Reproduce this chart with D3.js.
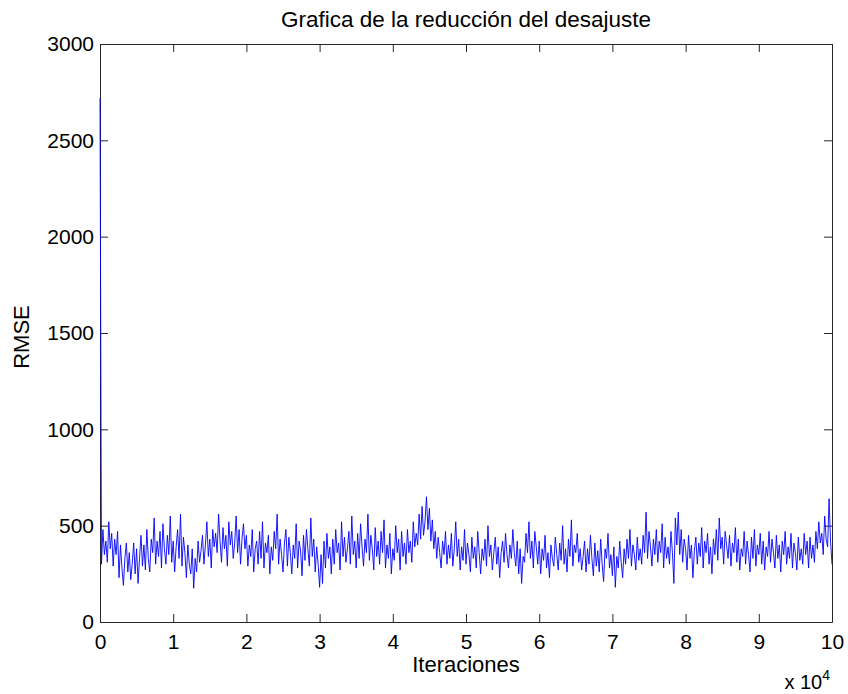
<!DOCTYPE html>
<html>
<head>
<meta charset="utf-8">
<script src="https://cdn.jsdelivr.net/npm/d3@7"></script>
<style>
  body { margin: 0; background: #fff; }
  svg text { font-family: "Liberation Sans", Arial, sans-serif; fill: #000; }
</style>
</head>
<body>
<svg class="chart"></svg>
<script>
// data
var title = 'Grafica de la reducción del desajuste';
var xLabel = 'Iteraciones';
var yLabel = 'RMSE';
var xTickValues = [0, 1, 2, 3, 4, 5, 6, 7, 8, 9, 10];
var yTickValues = [0, 500, 1000, 1500, 2000, 2500, 3000];
var iterStep = 200; // one reading every 200 iterations
var rmse = [
  2720, 300, 480, 350, 420, 310, 520, 380, 460, 290,
  430, 350, 470, 230, 400, 280, 190, 330, 410, 260,
  360, 220, 300, 410, 250, 380, 200, 330, 450, 290,
  400, 270, 480, 330, 260, 430, 360, 540, 300, 420,
  340, 470, 280, 510, 380, 300, 450, 350, 550, 310,
  420, 260, 390, 480, 330, 560, 290, 440, 360, 230,
  400, 300, 250, 380, 175, 330, 260, 420, 310, 370,
  450, 300, 400, 520, 340, 430, 280, 480, 390, 460,
  360, 560, 420, 310, 490, 380, 450, 290, 520, 400,
  470, 330, 410, 550, 360, 480, 300, 430, 510, 380,
  450, 290, 400, 340, 480, 260, 380, 420, 300, 470,
  330, 520, 280, 410, 360, 450, 250, 390, 320, 470,
  380, 560, 300, 430, 350, 260, 410, 480, 290, 440,
  360, 250, 400, 330, 510, 280, 420, 370, 240, 450,
  320, 480, 380, 290, 540, 340, 430, 260, 390, 300,
  180, 350, 200, 420, 280, 460, 330, 390, 250, 430,
  300, 480, 360, 410, 270, 520, 340, 440, 310, 380,
  470, 300, 550, 350, 420, 280, 460, 330, 510, 390,
  290, 430, 360, 560, 320, 450, 380, 270, 490, 340,
  420, 300, 470, 360, 530, 280, 400, 330, 460, 250,
  380, 320, 500, 360, 430, 270, 470, 340, 410, 300,
  480, 360, 420, 310, 520, 390, 460, 400, 560, 430,
  600, 450, 520, 650, 480, 590, 420, 530, 380, 470,
  330, 440, 360, 280, 420, 350, 470, 300, 400, 330,
  460, 290, 380, 520, 340, 430, 270, 390, 320, 480,
  300, 410, 350, 260, 440, 330, 390, 280, 470, 360,
  250, 380, 320, 430, 290, 500, 340, 400, 270, 360,
  440, 300, 390, 230, 360, 420, 310, 460, 350, 280,
  400, 330, 480, 360, 290, 420, 250, 380, 200, 340,
  310, 460, 360, 520, 330, 420, 280, 470, 390, 300,
  420, 250, 380, 320, 450, 280, 360, 230, 400, 330,
  290, 440, 350, 270, 410, 320, 500, 300, 380, 260,
  430, 340, 530, 290, 400, 360, 460, 310, 380, 270,
  340, 420, 260, 380, 300, 450, 330, 240, 410, 290,
  370, 260, 430, 300, 210, 380, 330, 460, 280, 350,
  240, 390, 180, 340, 280, 420, 310, 230, 380, 300,
  430, 330, 480, 290, 400, 350, 270, 440, 320, 380,
  300, 450, 360, 570, 330, 470, 390, 290, 430, 350,
  480, 310, 420, 360, 510, 280, 440, 330, 390, 300,
  470, 360, 200, 540, 400, 570, 350, 480, 310, 430,
  380, 270, 450, 330, 400, 230, 370, 440, 300, 410,
  340, 490, 280, 420, 360, 460, 300, 390, 250, 430,
  350, 480, 320, 540, 380, 440, 300, 470, 400, 330,
  450, 290, 410, 360, 490, 310, 430, 270, 380, 340,
  470, 300, 420, 350, 260, 440, 330, 480, 290, 400,
  350, 460, 300, 420, 270, 390, 340, 470, 310, 430,
  360, 280, 450, 330, 400, 260, 420, 350, 470, 300,
  390, 330, 460, 280, 410, 360, 270, 440, 320, 380,
  300, 460, 350, 420, 280, 440, 330, 400, 310, 470,
  380, 520, 410, 460, 350, 550, 430, 390, 640, 420,
  300
];

// chart
var width = 848;
var height = 694;
var margin = { left: 100, right: 16, top: 44, bottom: 72 };
var plotW = width - margin.left - margin.right;
var plotH = height - margin.top - margin.bottom;

var chart = d3.select('.chart')
    .attr('width', width)
    .attr('height', height);

var x = d3.scaleLinear()
    .domain([0, 100000])
    .range([0, plotW]);

var y = d3.scaleLinear()
    .domain([0, 3000])
    .range([plotH, 0]);

var g = chart.append('g')
    .attr('transform', 'translate(' + margin.left + ',' + margin.top + ')');

g.append('clipPath')
    .attr('id', 'plotClip')
  .append('rect')
    .attr('x', -1)
    .attr('width', plotW + 1)
    .attr('height', plotH);

// axes (matlab style box, ticks inward on all sides)
var tickLen = 8;
var xAxis = d3.axisBottom(x)
    .tickValues(xTickValues.map(function(v) { return v * 10000; }))
    .tickFormat(function(d) { return d / 10000; })
    .tickSizeInner(-tickLen)
    .tickSizeOuter(0)
    .tickPadding(12);

var yAxis = d3.axisLeft(y)
    .tickValues(yTickValues)
    .tickFormat(d3.format('d'))
    .tickSizeInner(-tickLen)
    .tickSizeOuter(0)
    .tickPadding(6);

var xAxisTop = d3.axisTop(x)
    .tickValues(xTickValues.map(function(v) { return v * 10000; }))
    .tickFormat('')
    .tickSizeInner(-tickLen)
    .tickSizeOuter(0);

var yAxisRight = d3.axisRight(y)
    .tickValues(yTickValues)
    .tickFormat('')
    .tickSizeInner(-tickLen)
    .tickSizeOuter(0);

function styleAxis(sel) {
  sel.select('.domain').attr('stroke', '#262626');
  sel.selectAll('.tick line').attr('stroke', '#262626');
  sel.selectAll('.tick text')
    .style('font-size', '21px')
    .style('font-family', '"Liberation Sans", Arial, sans-serif')
    .attr('fill', '#000');
}

g.append('g')
    .attr('class', 'x axis')
    .attr('transform', 'translate(0,' + plotH + ')')
    .call(xAxis)
    .call(styleAxis);

g.append('g')
    .attr('class', 'y axis')
    .call(yAxis)
    .call(styleAxis);

g.append('g')
    .attr('class', 'x axis top')
    .call(xAxisTop)
    .call(styleAxis);

g.append('g')
    .attr('class', 'y axis right')
    .attr('transform', 'translate(' + plotW + ',0)')
    .call(yAxisRight)
    .call(styleAxis);

// data line, drawn over the box like matlab
var line = d3.line()
    .x(function(d, i) { return x(i * iterStep); })
    .y(function(d) { return y(d); });

g.append('path')
    .datum(rmse)
    .attr('clip-path', 'url(#plotClip)')
    .attr('d', line)
    .attr('fill', 'none')
    .attr('stroke', '#0000ff')
    .attr('stroke-width', 0.9);

// labels
chart.append('text')
    .attr('x', margin.left + plotW / 2)
    .attr('y', 27)
    .attr('text-anchor', 'middle')
    .style('font-size', '22.5px')
    .text(title);

chart.append('text')
    .attr('x', margin.left + plotW / 2)
    .attr('y', 672)
    .attr('text-anchor', 'middle')
    .style('font-size', '22px')
    .text(xLabel);

chart.append('text')
    .attr('transform', 'translate(29,' + (margin.top + plotH / 2 + 4) + ') rotate(-90)')
    .attr('text-anchor', 'middle')
    .style('font-size', '22px')
    .text(yLabel);

var expo = chart.append('text')
    .attr('x', margin.left + plotW - 2)
    .attr('y', 689)
    .attr('text-anchor', 'end')
    .style('font-size', '20px');
expo.append('tspan').text('x 10');
expo.append('tspan')
    .attr('dy', -9)
    .style('font-size', '14px')
    .text('4');
</script>
</body>
</html>
